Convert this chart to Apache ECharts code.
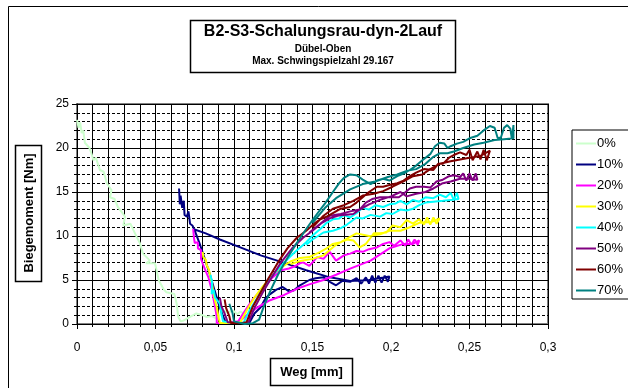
<!DOCTYPE html>
<html lang="de">
<head>
  <meta charset="UTF-8">
  <title>B2-S3-Schalungsrau-dyn-2Lauf</title>
  <script src="https://cdn.jsdelivr.net/npm/echarts@6/dist/echarts.min.js"></script>
  <style>
    body { margin: 0; background: #fff; }
  </style>
</head>
<body>
<div id="main" style="width: 628px; height: 388px"></div>
<script>

  var chartDom = document.getElementById('main');
  var myChart = echarts.init(chartDom);
  var option;

  var FONT = 'Arial, "Liberation Sans", sans-serif';

  // legend names + colours (Excel default palette)
  var names = ['0%', '10%', '20%', '30%', '40%', '50%', '60%', '70%'];
  var colors = ['#ccffcc', '#000080', '#ff00ff', '#ffff00', '#00ffff', '#800080', '#800000', '#008080'];

  // [Weg mm, Biegemoment Nm]
  var s0 = [[0,23.2],[0.001,22.3],[0.002,22.9],[0.003,21.7],[0.004,22.0],[0.005,20.6],[0.008,20.0],[0.0095,19.2],
    [0.0104,18.6],[0.012,18.9],[0.0146,17.5],[0.017,17.3],[0.019,16.0],[0.022,15.2],[0.021,14.4],[0.024,14.2],
    [0.026,13.3],[0.0306,12.2],[0.0295,11.2],[0.034,11.4],[0.038,9.9],[0.040,9.2],[0.042,8.0],[0.0465,7.2],
    [0.044,6.9],[0.0497,6.9],[0.052,5.0],[0.055,4.0],[0.057,3.6],[0.062,3.4],[0.0635,2.3],[0.0645,0.8],
    [0.066,0.3],[0.068,0.4],[0.072,0.8],[0.076,1.2],[0.080,1.0],[0.0826,0.8],[0.086,0.9],[0.089,0.6],
    [0.091,1.0],[0.093,1.5],[0.096,1.3],[0.0996,1.5],[0.102,1.1],[0.104,1.4],[0.106,1.2]];

  var s10 = [[0.065,15.4],[0.0655,13.6],[0.066,14.6],[0.067,13.2],[0.068,14.0],[0.0685,12.4],[0.070,12.2],
    [0.071,12.8],[0.072,11.4],[0.0735,11.2],[0.075,10.6],[0.078,9.2],[0.081,7.6],[0.084,6.0],[0.087,4.2],
    [0.090,2.4],[0.093,0.9],[0.095,0.1],[0.100,0.2],[0.106,0.1],[0.110,0.2],[0.113,1.2],[0.117,1.9],
    [0.120,2.9],[0.123,3.4],[0.127,3.9],[0.131,4.2],[0.135,3.7],[0.138,3.8],[0.142,4.4],[0.148,5.0],
    [0.152,5.2],[0.157,5.3],[0.161,4.8],[0.165,4.4],[0.169,4.9],[0.174,4.8],[0.178,5.2],[0.181,4.6],
    [0.184,5.3],[0.186,4.6],[0.188,5.5],[0.190,4.7],[0.192,5.5],[0.194,4.7],[0.196,5.5],[0.198,4.8],
    [0.199,5.4],[0.186,5.0],[0.174,4.9],[0.161,5.3],[0.146,6.1],[0.131,7.0],[0.117,7.8],[0.104,8.7],
    [0.091,9.6],[0.082,10.3],[0.074,10.8]];

  var s20 = [[0.074,10.8],[0.0745,9.8],[0.075,9.2],[0.077,9.3],[0.077,8.6],[0.079,8.4],[0.079,7.4],[0.080,6.9],
    [0.082,6.0],[0.0837,5.3],[0.085,4.4],[0.086,3.8],[0.087,2.8],[0.088,1.9],[0.089,0.8],[0.089,0.1],
    [0.096,0.1],[0.1027,0.3],[0.107,1.5],[0.112,2.8],[0.118,4.0],[0.124,5.2],[0.130,6.1],[0.135,6.3],
    [0.138,6.5],[0.142,6.9],[0.144,7.0],[0.148,6.6],[0.153,7.6],[0.157,7.4],[0.161,8.2],[0.165,7.2],
    [0.170,7.8],[0.174,8.0],[0.178,8.3],[0.182,8.2],[0.186,8.5],[0.191,8.7],[0.195,9.1],[0.199,9.3],
    [0.202,8.9],[0.206,9.5],[0.209,8.9],[0.211,9.6],[0.213,9.0],[0.215,9.6],[0.217,9.0],[0.218,9.5],
    [0.214,9.1],[0.208,9.1],[0.199,8.6],[0.187,7.2],[0.174,6.3],[0.165,5.6],[0.157,5.0],[0.148,4.5],
    [0.140,4.0],[0.132,3.3],[0.123,2.7],[0.116,2.0],[0.110,1.3],[0.105,0.5]];

  var s30 = [[0.080,8.2],[0.0805,7.6],[0.082,7.3],[0.0826,6.7],[0.084,6.2],[0.085,5.3],[0.086,4.6],[0.087,3.4],
    [0.088,2.6],[0.089,1.9],[0.090,0.9],[0.091,0.1],[0.098,0.1],[0.104,0.2],[0.108,1.5],[0.113,3.0],
    [0.118,4.2],[0.124,5.5],[0.130,6.4],[0.136,7.1],[0.142,7.5],[0.148,7.6],[0.155,8.2],[0.159,8.6],
    [0.163,9.1],[0.168,9.3],[0.172,9.6],[0.176,9.5],[0.180,8.7],[0.184,9.1],[0.187,9.8],[0.189,10.3],
    [0.193,10.3],[0.197,10.4],[0.201,11.2],[0.206,11.0],[0.210,11.8],[0.214,11.4],[0.218,11.9],[0.221,11.3],
    [0.223,12.1],[0.225,11.3],[0.227,12.1],[0.229,11.4],[0.231,12.0],[0.226,11.6],[0.218,11.5],[0.212,11.0],
    [0.206,10.6],[0.199,10.6],[0.193,10.2],[0.186,10.0],[0.178,10.3],[0.172,9.7],[0.165,9.0],[0.161,8.4],
    [0.157,7.8],[0.150,7.4],[0.143,7.2],[0.136,6.8]];

  var s40 = [[0.085,5.6],[0.086,4.8],[0.0858,3.4],[0.087,3.9],[0.088,3.0],[0.089,3.2],[0.091,2.3],[0.092,1.2],
    [0.093,0.3],[0.100,0.1],[0.106,0.1],[0.110,1.6],[0.115,3.0],[0.120,4.5],[0.126,5.8],[0.132,7.0],
    [0.139,8.2],[0.146,9.3],[0.151,10.2],[0.155,10.8],[0.159,11.5],[0.163,11.9],[0.167,12.0],[0.170,12.4],
    [0.174,12.1],[0.178,12.6],[0.182,13.2],[0.186,13.0],[0.190,13.5],[0.195,13.3],[0.199,13.6],[0.203,13.7],
    [0.206,14.0],[0.210,13.6],[0.214,14.1],[0.218,13.9],[0.222,14.4],[0.227,14.3],[0.231,14.7],[0.235,14.4],
    [0.238,14.9],[0.240,14.1],[0.242,14.9],[0.243,14.2],[0.238,14.1],[0.233,14.0],[0.227,13.9],[0.222,13.8],
    [0.218,13.5],[0.214,13.1],[0.210,12.9],[0.206,13.0],[0.201,12.5],[0.197,12.6],[0.193,12.2],[0.187,12.4],
    [0.182,12.0],[0.178,12.1],[0.172,11.3],[0.168,10.9],[0.163,10.6],[0.157,10.4],[0.150,9.6],[0.146,9.0]];

  var s50 = [[0.091,3.0],[0.092,2.0],[0.094,1.2],[0.096,0.2],[0.103,0.1],[0.109,0.1],[0.113,1.8],[0.118,3.5],
    [0.124,5.3],[0.130,7.0],[0.137,8.6],[0.144,9.8],[0.150,10.6],[0.156,11.5],[0.161,12.0],[0.166,12.3],
    [0.170,12.4],[0.176,12.5],[0.180,13.0],[0.184,13.8],[0.188,14.2],[0.193,14.4],[0.199,14.4],[0.205,14.4],
    [0.208,14.8],[0.212,15.4],[0.216,15.6],[0.221,15.6],[0.225,15.5],[0.229,16.2],[0.233,16.4],[0.237,16.8],
    [0.240,16.9],[0.244,16.7],[0.246,17.1],[0.248,16.3],[0.250,17.1],[0.252,16.3],[0.254,17.1],[0.255,16.4],
    [0.250,16.5],[0.244,16.5],[0.238,16.2],[0.233,16.0],[0.227,15.4],[0.222,15.0],[0.216,14.8],[0.210,14.5],
    [0.206,15.0],[0.200,14.5],[0.193,14.1],[0.186,13.6],[0.180,13.0],[0.174,12.8],[0.168,12.5],[0.161,12.3],
    [0.155,11.4],[0.148,10.4]];

  var s60 = [[0.094,2.8],[0.095,1.8],[0.097,0.9],[0.098,0.1],[0.104,0.1],[0.108,0.2],[0.112,2.0],[0.117,3.6],
    [0.122,5.2],[0.128,7.0],[0.134,8.6],[0.140,9.8],[0.146,10.6],[0.151,11.4],[0.155,11.9],[0.159,12.2],
    [0.163,12.6],[0.168,13.1],[0.174,13.3],[0.178,13.8],[0.182,14.4],[0.186,15.0],[0.191,15.6],[0.195,15.6],
    [0.199,15.8],[0.204,16.0],[0.208,16.3],[0.212,16.8],[0.216,17.2],[0.221,17.6],[0.227,17.5],[0.230,18.2],
    [0.233,18.2],[0.237,18.9],[0.240,19.2],[0.244,19.5],[0.248,19.2],[0.250,19.8],[0.252,18.6],[0.255,19.6],
    [0.257,18.7],[0.259,19.8],[0.261,18.6],[0.263,19.7],[0.257,19.1],[0.250,18.9],[0.244,18.7],[0.238,18.5],
    [0.231,18.2],[0.225,17.6],[0.220,17.0],[0.214,16.8],[0.208,16.2],[0.201,15.6],[0.195,15.1],[0.189,14.8],
    [0.182,14.6],[0.176,14.0],[0.170,13.5],[0.163,13.1],[0.157,12.3],[0.150,11.0]];

  var s70 = [[0.097,2.3],[0.099,1.3],[0.100,0.3],[0.107,0.0],[0.112,0.1],[0.116,0.5],[0.119,2.0],[0.123,3.7],
    [0.128,5.6],[0.134,7.5],[0.140,9.2],[0.146,10.8],[0.152,12.3],[0.158,13.7],[0.163,15.0],[0.167,16.0],
    [0.170,16.6],[0.174,17.0],[0.178,16.9],[0.182,16.4],[0.187,15.9],[0.191,16.3],[0.195,16.5],[0.199,16.3],
    [0.204,16.8],[0.208,17.1],[0.212,17.5],[0.216,18.0],[0.220,18.6],[0.225,19.3],[0.228,20.2],[0.231,20.6],
    [0.234,20.5],[0.236,20.0],[0.238,20.2],[0.242,20.5],[0.246,20.7],[0.250,21.1],[0.255,21.4],[0.259,22.0],
    [0.263,22.5],[0.266,22.3],[0.268,21.1],[0.270,21.2],[0.272,22.3],[0.274,22.6],[0.276,22.2],[0.277,21.0],
    [0.278,22.6],[0.278,21.1],[0.272,21.0],[0.266,20.9],[0.259,20.6],[0.253,20.4],[0.246,20.0],[0.240,19.6],
    [0.236,19.4],[0.231,19.4],[0.227,19.0],[0.222,18.2],[0.216,17.6],[0.210,17.4],[0.204,17.0],[0.198,16.7],
    [0.190,16.2],[0.182,15.9],[0.174,15.3],[0.165,14.3],[0.158,13.2],[0.150,11.5]];

  var seriesData = [s0, s10, s20, s30, s40, s50, s60, s70];

  var series = seriesData.map(function (d, i) {
    return {
      name: names[i],
      type: 'line',
      data: d,
      symbol: 'none',
      lineStyle: { color: colors[i], width: 2 },
      itemStyle: { color: colors[i] },
      z: 3 + i
    };
  });

  option = {
    animation: false,
    backgroundColor: '#fff',
    grid: {
      left: 77, right: 80, top: 104, bottom: 64,
      show: true, borderColor: '#808080', borderWidth: 2, backgroundColor: '#fff'
    },
    xAxis: {
      type: 'value', min: 0, max: 0.3, interval: 0.05,
      axisLine: { lineStyle: { color: '#000', width: 1 } },
      axisTick: { show: true, length: 5, lineStyle: { color: '#000' } },
      minorTick: { show: true, splitNumber: 5, length: 3, lineStyle: { color: '#000' } },
      axisLabel: {
        color: '#000', fontFamily: FONT, fontSize: 12, margin: 18,
        formatter: function (v) { return String(Math.round(v * 100) / 100).replace('.', ','); }
      },
      splitLine: { show: true, lineStyle: { color: '#000', width: 1 } },
      minorSplitLine: { show: true, lineStyle: { color: '#000', width: 1 } }
    },
    yAxis: {
      type: 'value', min: 0, max: 25, interval: 5,
      axisLine: { show: true, lineStyle: { color: '#000', width: 1 } },
      axisTick: { show: true, length: 5, lineStyle: { color: '#000' } },
      minorTick: { show: true, splitNumber: 5, length: 3, lineStyle: { color: '#000' } },
      axisLabel: { color: '#000', fontFamily: FONT, fontSize: 12, margin: 8 },
      splitLine: { show: true, lineStyle: { color: '#000', width: 1 } },
      minorSplitLine: { show: true, lineStyle: { color: '#000', width: 1, type: [3, 2] } }
    },
    legend: {
      orient: 'vertical', left: 572, top: 130,
      backgroundColor: '#fff', borderColor: '#000', borderWidth: 1,
      padding: [6, 12, 1, 4],
      icon: 'rect',
      itemWidth: 20, itemHeight: 2, itemGap: 6,
      textStyle: { color: '#000', fontFamily: FONT, fontSize: 13, lineHeight: 15, padding: [0, 0, 0, -4] },
      data: names
    },
    graphic: [
      { type: 'rect', z: 0, silent: true,
        shape: { x: 8.5, y: 6.5, width: 700, height: 400 },
        style: { fill: 'none', stroke: '#000', lineWidth: 1 } },
      { type: 'rect', z: 10, silent: true,
        shape: { x: 190.5, y: 20.5, width: 265, height: 52 },
        style: { fill: '#fff', stroke: '#000', lineWidth: 1.5 } },
      { type: 'text', z: 11, x: 323, y: 32,
        style: { text: 'B2-S3-Schalungsrau-dyn-2Lauf', font: 'bold 16px ' + FONT, fill: '#000', align: 'center', verticalAlign: 'middle' } },
      { type: 'text', z: 11, x: 323, y: 49,
        style: { text: 'Dübel-Oben', font: 'bold 10px ' + FONT, fill: '#000', align: 'center', verticalAlign: 'middle' } },
      { type: 'text', z: 11, x: 323, y: 61,
        style: { text: 'Max. Schwingspielzahl 29.167', font: 'bold 10px ' + FONT, fill: '#000', align: 'center', verticalAlign: 'middle' } },
      { type: 'rect', z: 10, silent: true,
        shape: { x: 15.5, y: 145.5, width: 26, height: 136 },
        style: { fill: '#fff', stroke: '#000', lineWidth: 1.5 } },
      { type: 'text', z: 11, x: 29, y: 213, rotation: Math.PI / 2,
        style: { text: 'Biegemoment [Nm]', font: 'bold 13px ' + FONT, fill: '#000', align: 'center', verticalAlign: 'middle' } },
      { type: 'rect', z: 10, silent: true,
        shape: { x: 270.5, y: 358.5, width: 82, height: 27 },
        style: { fill: '#fff', stroke: '#000', lineWidth: 1.5 } },
      { type: 'text', z: 11, x: 311.5, y: 372,
        style: { text: 'Weg [mm]', font: 'bold 13px ' + FONT, fill: '#000', align: 'center', verticalAlign: 'middle' } }
    ],
    series: series
  };
  option && myChart.setOption(option);

</script>
</body>
</html>
